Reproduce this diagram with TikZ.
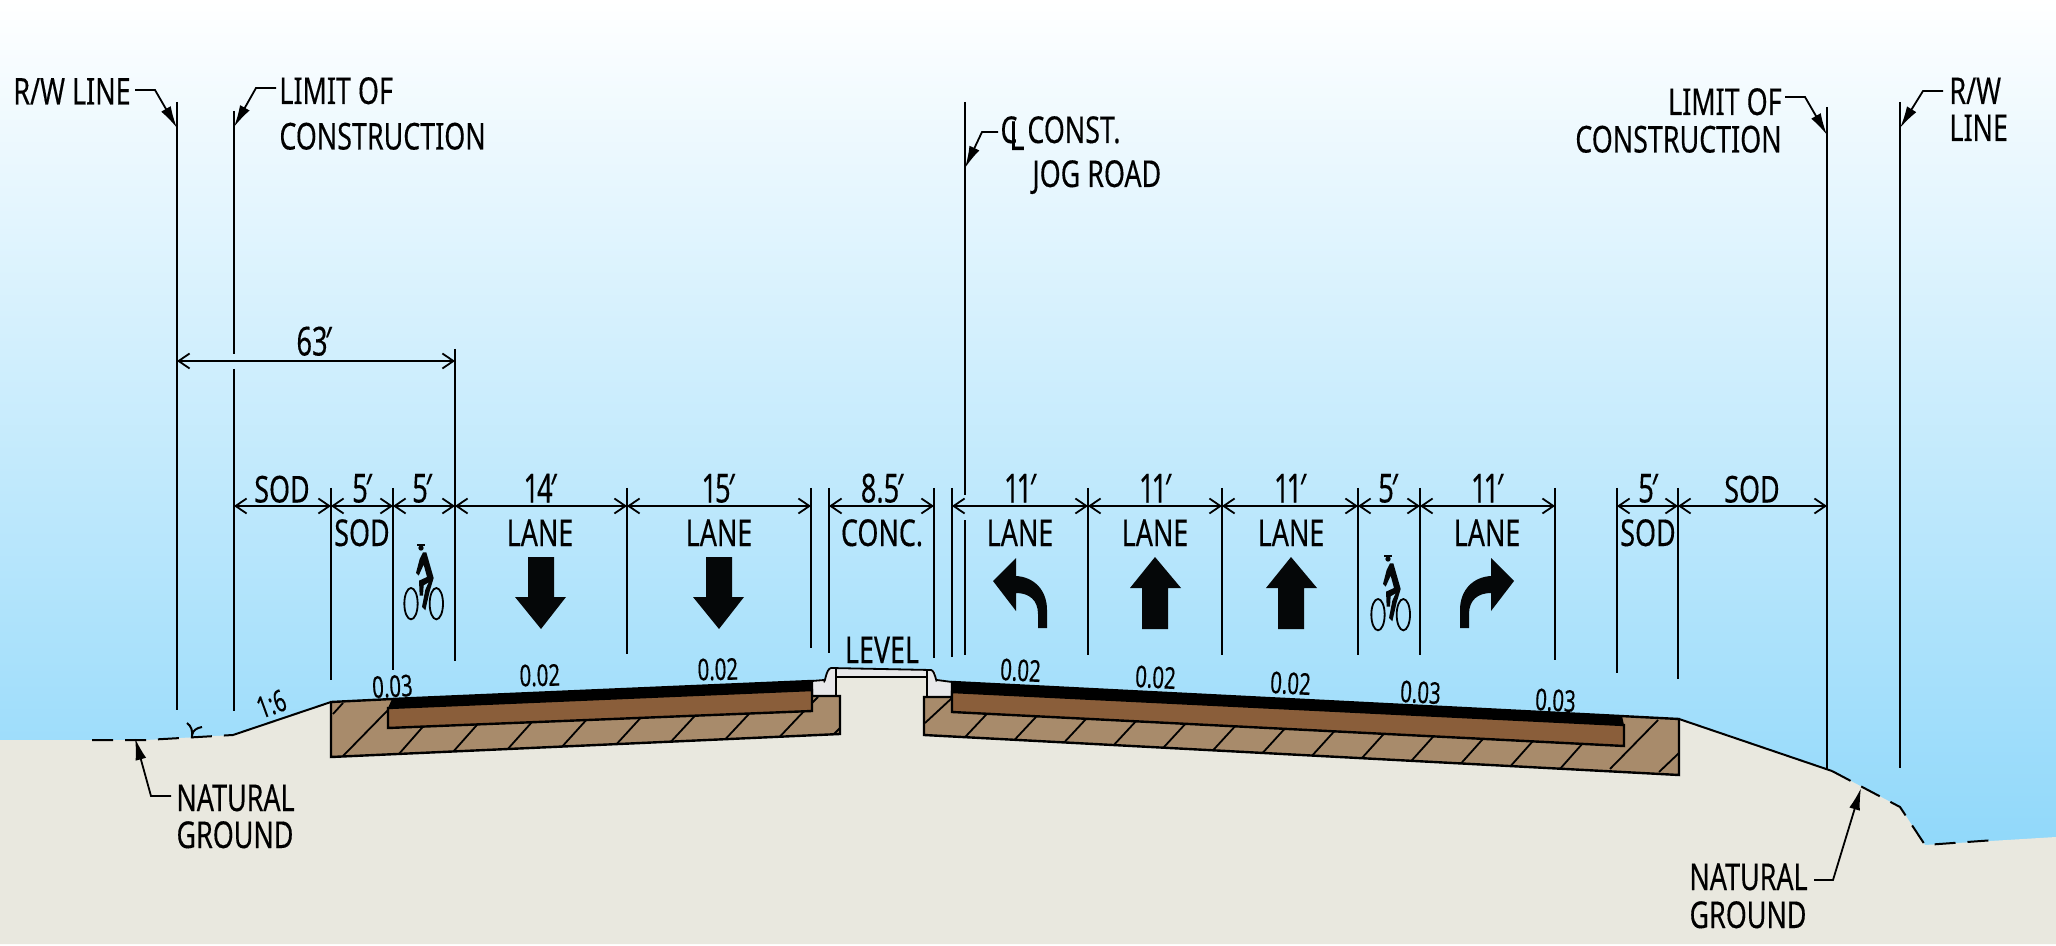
\documentclass[tikz,border=0pt]{standalone}
\usepackage{fontspec}
\setmainfont[FakeStretch=0.726,FakeBold=0.25]{Noto Sans}
\newfontfamily\numfont[FakeStretch=0.68,FakeBold=0.25]{Noto Sans}
\usetikzlibrary{arrows.meta}
\definecolor{skyb}{HTML}{90D8FA}
\definecolor{groundc}{HTML}{E9E8DF}
\definecolor{soilc}{HTML}{A88B6B}
\definecolor{basec}{HTML}{8A5E3A}
\definecolor{curbc}{HTML}{E8E8EA}
\definecolor{inkc}{HTML}{050708}
\newcommand{\prm}{\kern-1.2pt′}
\tikzset{
 lab/.style={inner sep=0pt,anchor=base,text=black,font=\fontsize{18.5}{18.5}\selectfont},
 labl/.style={lab,anchor=base west},
 labr/.style={lab,anchor=base east},
 dimnum/.style={lab,font=\numfont\fontsize{20}{20}\selectfont},
 slope/.style={lab,font=\numfont\fontsize{15}{15}\selectfont},
 vline/.style={line width=1pt,black},
 outline/.style={line width=1.2pt,black,line join=miter},
 hatchl/.style={line width=.9pt,black},
 dimline/.style={line width=1pt,black,{Straight Barb[length=5.5pt,width=7.5pt,line width=.9pt]}-{Straight Barb[length=5.5pt,width=7.5pt,line width=.9pt]}},
 leader/.style={line width=.9pt,black,-{Latex[length=11pt,width=5.5pt]}},
 gline/.style={line width=1pt,black},
 gdash/.style={gline,dash pattern=on 10.5pt off 6pt},
 sign/.style={fill=inkc,draw=none}
}
\newcommand{\cyclist}[2]{%
 \begin{scope}[shift={(#1,#2)},x=0.16667pt,y=-0.16667pt,shift={(-122,-82)}]
  \draw[line width=.9pt] (92,252) ellipse [x radius=20,y radius=47];
  \draw[line width=.9pt] (168,252) ellipse [x radius=20,y radius=47];
  \fill[inkc] (122,85) circle [radius=8];
  \fill[inkc] (110,74) rectangle (134,78);
  \fill[inkc] (128,98)--(138,98)--(160,175)--(148,215)--(135,272)--(125,262)--(135,210)--(145,188)--(130,197)--(128,228)--(118,228)--(116,183)--(140,172)--(130,135)--(115,168)--(107,160)--(118,118)--cycle;
 \end{scope}}
\begin{document}
\begin{tikzpicture}[x=0.5pt,y=-0.5pt]
\useasboundingbox (0,0) rectangle (2056,946);
% sky and ground
\shade[top color=white,bottom color=skyb] (0,0) rectangle (2056,850);
\fill[groundc] (0,740)--(146,740)--(233,735)--(331,702)--(812,681)--(836,677)--(927,677)--(952,682)--(1679,719)--(1832,771)--(1900,807)--(1925,845)--(2056,837)--(2056,944)--(0,944)--cycle;
% curb and gutter
\fill[curbc] (812,681)--(826,680) to[out=-80,in=-170] (830,668)--(933,670) to[out=-10,in=-100] (937,681)--(952,682)--(952,697)--(812,697)--cycle;
\fill[groundc] (836,677) rectangle (927,700);
\draw[line width=.9pt] (812,681)--(824,680) to[out=-80,in=-170] (831,668)--(931,670) to[out=-10,in=-100] (937,680)--(952,682);
\draw[outline] (836,668)--(836,696);
\draw[outline] (927,669)--(927,697);
\draw[outline] (836,677)--(927,677);
% left pavement box
\draw[outline,fill=soilc] (331,702)--(392,699)--(812,681)--(812,696)--(840,696)--(840,734)--(331,757)--cycle;
\foreach \k in {0,...,7}{
 \pgfmathsetmacro{\xa}{399+54.4*\k}
 \pgfmathsetmacro{\ya}{757-(\xa-331)*0.04519}
 \pgfmathsetmacro{\xb}{\xa+24}
 \pgfmathsetmacro{\yb}{728-(\xb-388)*0.0401}
 \draw[hatchl] (\xa,\ya)--(\xb,\yb);
}
\draw[hatchl] (333,714)--(343,703);
\draw[hatchl] (343,756)--(388,710);
\draw[hatchl] (812,703)--(818,697);
\draw[hatchl] (834,734)--(840,728);
\draw[outline,fill=basec] (388,708)--(812,690)--(812,711)--(388,728)--cycle;
\fill[black] (392,699)--(812,681)--(812,690)--(388,708)--cycle;
% right pavement box
\draw[outline,fill=soilc] (924,697)--(952,697)--(952,682)--(1679,719)--(1679,775)--(924,735)--cycle;
\foreach \k in {0,...,12}{
 \pgfmathsetmacro{\xa}{965+49.6*\k}
 \pgfmathsetmacro{\ya}{735+(\xa-924)*0.05298}
 \pgfmathsetmacro{\xb}{\xa+22}
 \pgfmathsetmacro{\yb}{712+(\xb-952)*0.0506}
 \draw[hatchl] (\xa,\ya)--(\xb,\yb);
}
\draw[hatchl] (925,723)--(952,698);
\draw[hatchl] (1610,769)--(1658,720);
\draw[hatchl] (1659,772)--(1679,753);
\draw[outline,fill=basec] (952,692)--(1624,725)--(1624,746)--(952,712)--cycle;
\fill[black] (952,682)--(1622,716)--(1624,725)--(952,692)--cycle;
% ground lines
\draw[gdash] (92,740)--(146,740)--(233,735);
\draw[gline] (233,735)--(331,702);
\draw[gline] (1679,719)--(1832,771);
\draw[gdash] (1832,771)--(1900,807)--(1925,845)--(1995,840);
\draw[line width=1pt] (192,738) .. controls (193,730) and (191,726) .. (187,723);
\draw[line width=1pt] (192,735) .. controls (193,730) and (197,728) .. (202,727);
% vertical extension lines
\draw[vline] (177,102)--(177,710);
\draw[vline] (234,111)--(234,354);
\draw[vline] (234,369)--(234,711);
\draw[vline] (455,349)--(455,661);
\draw[vline] (331,488)--(331,680);
\draw[vline] (393,488)--(393,670);
\draw[vline] (627,488)--(627,654);
\draw[vline] (811,488)--(811,648);
\draw[vline] (829,488)--(829,653);
\draw[vline] (934,488)--(934,658);
\draw[vline] (952,488)--(952,657);
\draw[vline] (965,102)--(965,495);
\draw[vline] (965,520)--(965,655);
\draw[vline] (1088,488)--(1088,655);
\draw[vline] (1222,488)--(1222,655);
\draw[vline] (1358,488)--(1358,655);
\draw[vline] (1420,488)--(1420,655);
\draw[vline] (1555,488)--(1555,660);
\draw[vline] (1617,488)--(1617,673);
\draw[vline] (1678,488)--(1678,679);
\draw[vline] (1827,107)--(1827,770);
\draw[vline] (1900,102)--(1900,768);
% dimension points
\foreach \n/\x in {a/234,b/331,c/393,d/455,e/627,f/811,g/829,h/934,i/952,j/1088,k/1222,l/1358,m/1420,n/1555,o/1617,p/1678,q/1827}{
 \coordinate (dim\n) at (\x,506);
}
\coordinate (ova) at (177,361);
\coordinate (ovb) at (455,361);
\draw[dimline] (ova)--(ovb);
\foreach \s/\t in {a/b,b/c,c/d,d/e,e/f,g/h,i/j,j/k,k/l,l/m,m/n,o/p,p/q}{
 \draw[dimline] (dim\s)--(dim\t);
}
% dimension text
\node[dimnum] (t63) at (314,355.5) {63\prm};
\node[lab] (tsod1) at (282,502.5) {SOD};
\node[dimnum] (t5a) at (362,502.5) {5\prm};
\node[dimnum] (t5b) at (422,502.5) {5\prm};
\node[dimnum] (t14) at (540,502.5) {1\kern-1pt 4\prm};
\node[dimnum] (t15) at (718,502.5) {1\kern-1pt 5\prm};
\node[dimnum] (t85) at (882,502.5) {8.5\prm};
\node[dimnum] (t11a) at (1020,502.5) {1\kern-1.5pt 1\prm};
\node[dimnum] (t11b) at (1155,502.5) {1\kern-1.5pt 1\prm};
\node[dimnum] (t11c) at (1290,502.5) {1\kern-1.5pt 1\prm};
\node[dimnum] (t5c) at (1388,502.5) {5\prm};
\node[dimnum] (t11d) at (1487,502.5) {1\kern-1.5pt 1\prm};
\node[dimnum] (t5d) at (1648,502.5) {5\prm};
\node[lab] (tsod2) at (1752,502.5) {SOD};
\node[lab] (tsod3) at (362,546) {SOD};
\node[lab] (tl1) at (540,546) {LANE};
\node[lab] (tl2) at (719,546) {LANE};
\node[lab] (tconc) at (882,546) {CONC.};
\node[lab] (tl3) at (1020,546) {LANE};
\node[lab] (tl4) at (1155,546) {LANE};
\node[lab] (tl5) at (1291,546) {LANE};
\node[lab] (tl6) at (1487,546) {LANE};
\node[lab] (tsod4) at (1648,546) {SOD};
\node[lab] (tlevel) at (882,663) {LEVEL};
% slopes
\node[slope,rotate=3] (s1) at (393,697) {0.03};
\node[slope,rotate=20] (s2) at (275,714) {1:6};
\node[slope,rotate=1] (s3) at (540,686) {0.02};
\node[slope,rotate=1] (s4) at (718,680) {0.02};
\node[slope,rotate=-3] (s5) at (1020,681) {0.02};
\node[slope,rotate=-3] (s6) at (1155,688) {0.02};
\node[slope,rotate=-3] (s7) at (1290,694) {0.02};
\node[slope,rotate=-3] (s8) at (1420,703) {0.03};
\node[slope,rotate=-3] (s9) at (1555,711) {0.03};
% lane arrows
\fill[sign] (528,557)--(554,557)--(554,597)--(566,597)--(541,629)--(515,597)--(528,597)--cycle;
\fill[sign] (706,557)--(732,557)--(732,597)--(744,597)--(719,629)--(693,597)--(706,597)--cycle;
\fill[sign] (1142,629)--(1168,629)--(1168,588)--(1181,588)--(1155,557)--(1130,588)--(1142,588)--cycle;
\fill[sign] (1278,629)--(1304,629)--(1304,588)--(1317,588)--(1291,557)--(1266,588)--(1278,588)--cycle;
\fill[sign] (1038,628)--(1047,628)--(1047,610) .. controls (1047,590) and (1034,577) .. (1016,576)--(1016,558)--(993,581)--(1016,611)--(1016,593) .. controls (1029,593) and (1038,600) .. (1038,614)--cycle;
\fill[sign] (1469,628)--(1460,628)--(1460,610) .. controls (1460,590) and (1473,577) .. (1491,576)--(1491,558)--(1514,581)--(1491,611)--(1491,593) .. controls (1478,593) and (1469,600) .. (1469,614)--cycle;
\cyclist{421}{547}
\cyclist{1388}{558}
% callouts
\node[labr] (rwl) at (131,104.5) {R/W LINE};
\coordinate (rwlk) at (155,90);
\coordinate (rwlt) at (177,128);
\draw[leader] (135,90)--(rwlk)--(rwlt);
\node[labl] (lima) at (279,104) {LIMIT OF};
\node[labl] (limb) at (279,149.5) {CONSTRUCTION};
\coordinate (limk) at (256,88);
\coordinate (limt) at (234,127);
\draw[leader] (276,88)--(limk)--(limt);
\node[lab] (clc) at (1009,143) {C};
\node[lab,font=\fontsize{20}{20}\selectfont] (cll) at (1017,150) {L};
\node[labl] (cons) at (1027,143) {CONST.};
\node[labl] (jog) at (1032,187) {JOG ROAD};
\coordinate (clk) at (982,132);
\coordinate (clt) at (965,168);
\draw[leader] (998,132)--(clk)--(clt);
\node[labr] (rlima) at (1782,115) {LIMIT OF};
\node[labr] (rlimb) at (1782,152.5) {CONSTRUCTION};
\coordinate (rlimk) at (1805,97);
\coordinate (rlimt) at (1827,135);
\draw[leader] (1785,97)--(rlimk)--(rlimt);
\node[labl] (rrwa) at (1949,104) {R/W};
\node[labl] (rrwb) at (1949,141) {LINE};
\coordinate (rrwk) at (1923,91);
\coordinate (rrwt) at (1900,128);
\draw[leader] (1943,91)--(rrwk)--(rrwt);
\node[labl] (nga) at (176,811) {NATURAL};
\node[lab] (ngb) at (235,848) {GROUND};
\coordinate (ngk) at (151,796);
\coordinate (ngt) at (135,738);
\draw[leader] (171,796)--(ngk)--(ngt);
\node[labr] (rnga) at (1808,890) {NATURAL};
\node[lab] (rngb) at (1748,928) {GROUND};
\coordinate (rngk) at (1833,880);
\coordinate (rngt) at (1861,788);
\draw[leader] (1814,880)--(rngk)--(rngt);
\end{tikzpicture}
\end{document}
